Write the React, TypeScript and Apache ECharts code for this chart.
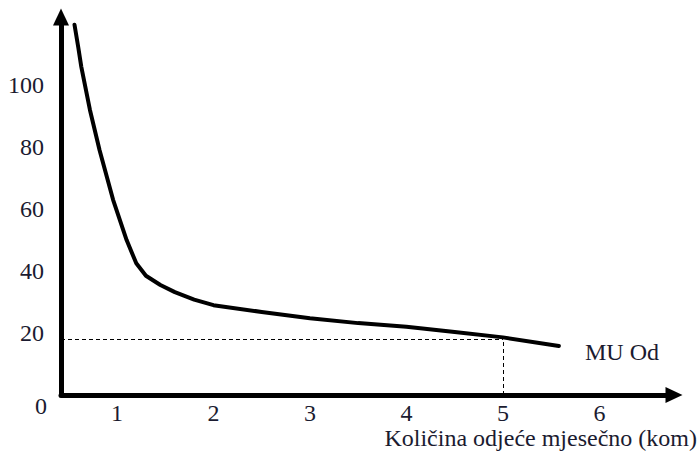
import React, { useEffect, useRef } from "react";
import * as echarts from "echarts";

const curveX = [0.56, 0.6, 0.63, 0.72, 0.82, 0.96, 1.1, 1.2, 1.3, 1.45, 1.6, 1.8, 2.0, 2.5, 3.0, 3.5, 4.0, 4.5, 5.0, 5.58];
const curveY = [119.5, 112, 106, 92, 79, 63, 50, 42.5, 38.5, 35.5, 33.2, 30.8, 29, 26.8, 24.8, 23.2, 22, 20.3, 18.6, 15.8];
const xTicks = [1, 2, 3, 4, 5, 6];
const yTicks = [0, 20, 40, 60, 80, 100];
const dashLevel = 18;
const dashX = 5;
const curveName = "MU Od";
const xTitle = "Količina odjeće mjesečno (kom)";

const FONT = "'Liberation Serif', 'Times New Roman', serif";
const TXT = "#1b1b30";
const FS = 24;

export default function App() {
  const ref = useRef<HTMLDivElement>(null);
  useEffect(() => {
    if (!ref.current) return;
    const chart = echarts.init(ref.current, undefined, { renderer: "svg" });
    const xMin = 0.42;
    chart.setOption({
      animation: false,
      backgroundColor: "#ffffff",
      grid: { left: 61, right: 26, top: 17, bottom: 58, containLabel: false },
      xAxis: {
        type: "value",
        min: xMin,
        max: 6.773,
        splitLine: { show: false },
        axisTick: { show: false },
        axisLine: {
          show: true,
          onZero: false,
          lineStyle: { color: "#000", width: 5 },
          symbol: ["none", "triangle"],
          symbolSize: [16, 17],
        },
        axisLabel: {
          customValues: xTicks,
          margin: 6,
          fontFamily: FONT,
          fontSize: FS,
          color: TXT,
        },
      },
      yAxis: {
        type: "value",
        min: 0,
        max: 122,
        splitLine: { show: false },
        axisTick: { show: false },
        axisLine: {
          show: true,
          onZero: false,
          lineStyle: { color: "#000", width: 5 },
          symbol: ["none", "triangle"],
          symbolSize: [16, 17],
        },
        axisLabel: {
          customValues: yTicks.filter((v) => v !== 0),
          margin: 17,
          fontFamily: FONT,
          fontSize: FS,
          color: TXT,
        },
      },
      series: [
        {
          type: "line",
          name: curveName,
          data: curveX.map((x, i) => [x, curveY[i]]),
          showSymbol: false,
          smooth: false,
          lineStyle: { color: "#000", width: 4, cap: "round", join: "round" },
          markLine: {
            silent: true,
            symbol: ["none", "none"],
            label: { show: false },
            lineStyle: { color: "#000", width: 1, type: [4, 3] },
            data: [
              [{ coord: [xMin, dashLevel] }, { coord: [dashX, dashLevel] }],
              [{ coord: [dashX, 0] }, { coord: [dashX, dashLevel] }],
            ],
          },
        },
      ],
      graphic: [
        {
          type: "text",
          x: 41,
          y: 406,
          style: { text: String(yTicks[0]), font: `${FS}px ${FONT}`, fill: TXT, align: "center", verticalAlign: "middle" },
        },
        {
          type: "text",
          x: 585,
          y: 352,
          style: { text: curveName, font: `${FS}px ${FONT}`, fill: TXT, align: "left", verticalAlign: "middle" },
        },
        {
          type: "text",
          x: 697,
          y: 438,
          style: { text: xTitle, font: `${FS}px ${FONT}`, fill: TXT, align: "right", verticalAlign: "middle" },
        },
      ],
    });
    return () => chart.dispose();
  }, []);
  return <div ref={ref} style={{ position: "fixed", left: 0, top: 0, width: 700, height: 453 }} />;
}
